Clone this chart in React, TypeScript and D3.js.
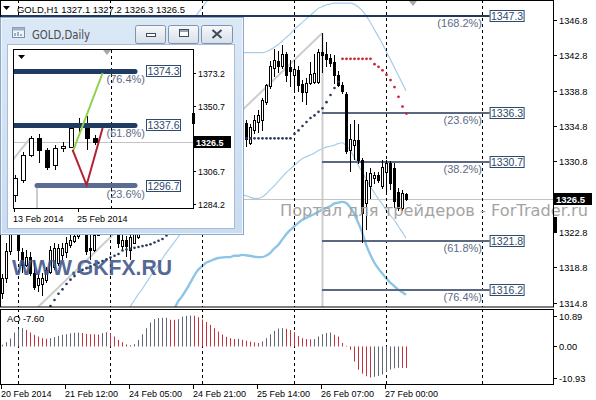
import React from "react";
import * as d3 from "d3";

// ---------- H1 candles (bar index 0..101) ----------
const OPEN = [1315.9,1317.6,1320.6,1322.8,1324.0,1320.5,1319.1,1320.0,1318.2,1316.8,
1316.9,1317.4,1318.3,1318.8,1319.3,1320.2,1320.5,1321.3,1321.8,1322.3,
1322.8,1323.8,1321.0,1320.8,1322.5,1323.8,1324.6,1324.0,1324.8,1324.0,
1321.2,1321.9,1320.8,1321.6,1322.2,1323.5,1325.0,1326.8,1328.0,1330.2,
1329.6,1332.4,1334.0,1333.2,1335.8,1337.2,1336.0,1334.8,1336.2,1335.8,
1334.2,1333.4,1334.4,1335.2,1334.6,1335.0,1336.4,1336.0,1336.8,1336.2,
1336.6,1335.1,1332.9,1334.4,1335.3,1335.5,1337.5,1339.3,1341.4,1342.2,
1341.6,1342.9,1341.5,1340.6,1341.1,1339.5,1338.6,1339.7,1339.8,1339.8,
1343.2,1342.9,1342.5,1342.0,1340.6,1339.4,1338.4,1332.1,1332.6,1333.2,
1331.0,1326.1,1328.0,1328.9,1329.2,1328.0,1329.6,1330.6,1330.0,1327.3,
1325.5,1327.1];
const HIGH = [1318.0,1321.5,1324.0,1325.0,1324.6,1321.0,1320.8,1320.5,1319.6,1318.0,
1318.2,1318.8,1321.2,1321.5,1321.4,1321.6,1322.2,1322.5,1322.8,1323.4,
1324.2,1324.2,1322.4,1323.0,1324.2,1325.0,1325.6,1325.2,1325.4,1324.8,
1322.4,1322.3,1322.8,1324.0,1324.5,1325.4,1327.2,1328.5,1330.6,1331.4,
1332.8,1334.6,1335.2,1336.4,1338.0,1338.4,1337.0,1336.6,1337.8,1336.4,
1335.0,1334.8,1335.6,1336.2,1335.4,1336.8,1337.4,1337.2,1337.6,1337.0,
1337.0,1335.5,1335.0,1336.0,1336.6,1338.0,1339.6,1342.2,1343.5,1343.3,
1344.0,1343.2,1342.3,1342.3,1341.6,1340.0,1340.2,1342.1,1343.0,1343.5,
1345.3,1344.3,1343.0,1342.8,1341.0,1339.8,1338.6,1335.0,1335.5,1335.0,
1331.2,1329.6,1330.0,1329.6,1329.6,1330.9,1330.9,1330.8,1330.6,1327.8,
1327.6,1327.2];
const LOW = [1315.2,1317.0,1320.2,1322.7,1319.6,1318.2,1318.8,1317.8,1316.2,1316.0,
1315.6,1317.0,1318.0,1318.5,1319.0,1319.6,1319.8,1321.0,1321.5,1322.0,
1322.6,1320.2,1319.6,1320.5,1322.4,1323.2,1323.6,1323.0,1323.5,1321.0,
1320.8,1320.0,1319.6,1321.4,1322.0,1323.0,1324.6,1326.2,1327.5,1329.0,
1329.2,1331.8,1332.6,1332.8,1335.0,1335.6,1334.4,1334.0,1335.4,1333.8,
1332.6,1332.8,1333.6,1334.2,1333.8,1334.6,1335.6,1335.2,1335.8,1335.4,
1334.5,1332.4,1332.6,1333.9,1334.0,1334.2,1337.2,1339.0,1340.4,1340.8,
1341.3,1339.8,1339.2,1338.8,1338.6,1337.5,1337.2,1339.4,1339.6,1339.5,
1340.8,1341.5,1341.5,1339.6,1339.2,1338.4,1331.6,1329.6,1331.0,1330.5,
1321.5,1323.0,1326.5,1328.2,1328.3,1327.7,1327.3,1327.6,1325.5,1325.2,
1325.2,1326.3];
const CLOSE = [1317.6,1320.6,1322.8,1324.0,1320.8,1319.1,1320.0,1318.2,1316.6,1317.6,
1317.6,1318.5,1320.8,1321.0,1321.0,1321.0,1321.6,1321.9,1322.3,1322.8,
1323.8,1320.6,1320.7,1322.5,1323.8,1324.6,1324.0,1324.8,1324.0,1321.5,
1321.9,1321.2,1322.2,1322.7,1323.5,1325.0,1326.8,1328.0,1330.2,1329.6,
1332.4,1334.0,1333.2,1335.8,1337.2,1336.0,1334.8,1336.2,1335.8,1334.2,
1333.4,1334.4,1335.2,1334.6,1335.0,1336.4,1336.0,1336.8,1336.2,1336.6,
1335.1,1333.3,1334.7,1335.5,1336.0,1337.7,1339.4,1341.6,1342.3,1341.6,
1342.9,1340.6,1341.0,1341.2,1339.4,1338.7,1339.7,1340.7,1340.8,1343.2,
1342.8,1342.4,1341.9,1340.6,1339.4,1338.8,1332.0,1333.3,1333.2,1331.0,
1325.0,1328.7,1329.5,1329.2,1328.7,1330.2,1330.6,1328.3,1326.3,1325.5,
1327.2,1326.5];

const N = null;
// Parabolic SAR (below price, dark) and (above price, red)
const SAR_UP = [N,N,N,N,N,N,N,N,N,N,N,N,
1314.4,1315.1,1315.8,1316.3,1316.9,1317.4,1317.8,1318.3,1318.5,1318.7,
1318.9,1319.1,1319.3,1319.5,1319.7,1319.9,1320.1,1320.3,1320.7,1320.8,
1320.9,1321.0,1321.1,1321.2,1321.3,1321.4,1321.6,1321.8,1322.0,1322.4,
N,N,N,N,N,N,N,N,N,N,N,N,N,N,N,N,N,N,
1333.4,1333.4,1333.4,1333.4,1333.4,1333.4,1333.4,1333.4,1333.4,1333.4,1333.4,1333.4,1333.4,
1333.9,1334.3,1334.8,1335.25,1335.7,1336.0,1336.4,1336.8,1337.5,1338.3,1339.1,1339.8,
N,N,N,N,N,N,N,N,N,N,N,N,N,N,N,N,N];
const SAR_DOWN = [...Array(85).fill(N),
1342.4,1342.4,1342.4,1342.4,1342.4,1342.4,1342.4,1342.4,
1341.8,1341.5,1341.1,1340.6,1340.0,1339.2,1338.1,1337.0,1336.2];

// Bands (light blue)
const BAND_UPPER = [...Array(47).fill(N),
1346.5,1347.0,1347.6,1348.2,1348.8,1349.4,
N,N,N,N,N,N,N,
1343.1,1343.1,1343.1,1343.1,1343.1,1343.1,1343.2,1343.4,1343.7,1344.0,
1344.4,1344.8,1345.2,1345.7,1346.1,1346.5,1346.9,1347.3,1347.7,1348.1,
1348.3,1348.5,1348.6,1348.7,1348.7,
1348.7,1348.7,1348.7,1348.6,1348.3,1347.9,1347.3,1346.6,1345.8,1345.0,
1344.2,1343.3,1342.4,1341.5,1340.6,1339.7,1338.8];
const BAND_MIDDLE = [...Array(31).fill(N),
1313.6,1314.3,1315.0,1315.7,1316.3,1317.0,1317.7,1318.4,1319.0,1319.7,1320.4,1321.0,1321.6,1322.2,1322.8,1323.4,
N,N,N,N,N,N,N,N,N,N,N,N,
1327.1,1327.0,1326.9,1326.75,1326.6,1326.6,1326.75,1327.1,1327.55,1328.0,
1328.5,1329.0,1329.5,1329.9,1330.3,1330.7,1331.1,1331.3,1331.5,1331.7,
1332.0,1332.2,1332.4,1332.5,1332.6,1332.8,1332.9,1332.6,1332.1,1331.3,
1330.4,1329.6,1328.8,1328.0,1327.3,1326.6,1326.0,1325.3,1324.7,1324.2,
1323.5,1322.8,1322.1];
const BAND_LOWER = [...Array(43).fill(N),
1314.0,1314.9,1315.5,1316.2,1317.0,1317.8,1318.5,1318.9,1319.3,1319.5,
1319.7,1319.85,1319.9,1319.95,1319.95,1320.1,1320.1,1320.2,1320.15,1320.1,
1320.0,1319.95,1319.95,1320.1,1320.4,1320.9,1321.3,1321.9,1322.5,1323.0,
1323.4,1323.8,1324.15,1324.4,1324.6,1324.8,1325.05,1325.3,1325.5,1325.7,
1326.0,1326.1,1326.2,1326.1,1325.6,1324.9,1323.9,1322.8,1321.4,1320.3,
1319.4,1318.7,1318.15,1317.6,1317.1,1316.7,1316.3,1316.0,1315.7];

// Awesome Oscillator
const AO = [0.6,1.5,2.8,4.9,6.2,6.45,
5.8,4.9,4.1,3.5,2.9,2.7,
2.9,3.3,3.7,4.1,4.3,4.6,4.8,4.9,
4.7,4.4,4.3,4.25,4.2,
4.7,5.0,
4.7,3.5,2.3,1.5,0.7,0.4,
0.8,2.3,4.3,6.4,8.4,9.6,10.0,10.05,10.1,
9.4,9.35,
9.6,10.5,10.75,
10.89,
10.8,10.3,9.5,8.6,7.6,6.4,5.2,4.2,3.4,2.9,2.6,
2.7,
2.3,2.0,1.7,1.45,1.2,
1.75,2.9,4.3,5.5,6.3,6.45,
6.2,5.8,5.0,3.7,2.9,2.6,2.5,
2.6,3.5,4.3,4.7,4.9,
4.1,3.5,1.2,0.2,-1.2,-5.3,-8.2,-9.6,-10.5,-10.93,
-10.7,-10.4,-9.9,-9.0,-8.1,-7.7,-7.5,
-7.55,-7.6];

// Fibonacci (H1)
const FIB_PRICES = [1347.3, 1336.3, 1330.7, 1321.8, 1316.2];
const FIB_PCTS = ["(168.2%)", "(23.6%)", "(38.2%)", "(61.8%)", "(76.4%)"];
const FIB_TEXT = ["1347.3", "1336.3", "1330.7", "1321.8", "1316.2"];
const FIB_DIAG = [[-7, 1307.3], [80, 1345.3]];
const FIB_START_BAR = 80;
const FIB_END_BAR = 121.9;

const SEPARATOR_BARS = [4, 27, 50, 73, 96, 120];
const X_TICK_BARS = [0, 16, 32, 48, 64, 80, 96];
const X_TICK_LABELS = ["20 Feb 2014", "21 Feb 12:00", "24 Feb 05:00", "24 Feb 21:00", "25 Feb 14:00", "26 Feb 07:00", "27 Feb 00:00"];
const Y_TICKS = [1346.8, 1342.8, 1338.8, 1334.8, 1330.8, 1322.8, 1318.8, 1314.8];
const AO_TICKS = [10.89, 0, -10.93];
const AO_TICK_LABELS = ["10.89", "0.00", "-10.93"];
const LAST_PRICE = 1326.5;

// ---------- Daily inset ----------
const D_OPEN = [1290.3,1300.5,1317.5,1329.0,1320.9,1310.7,1322.2,1322.9,1336.5,1339.2,1329.0];
const D_HIGH = [1303.9,1319.5,1330.4,1331.8,1322.2,1324.3,1326.3,1335.8,1342.6,1344.0,1331.1];
const D_LOW = [1285.6,1298.5,1316.0,1312.1,1307.3,1307.3,1319.5,1322.2,1332.4,1320.9,1324.3];
const D_CLOSE = [1301.9,1317.5,1329.0,1320.9,1309.3,1322.2,1323.6,1335.8,1339.2,1329.0,1326.5];
const D_FIB_PRICES = [1374.3, 1337.6, 1296.7];
const D_FIB_TEXT = ["1374.3", "1337.6", "1296.7"];
const D_FIB_PCTS = ["(76.4%)", "(61.8%)", "(23.6%)"];
const D_FIB_START = [-1, -1, 2.75];
const D_FIB_END = 15;
const D_GREEN = [[7.2, 1319.5], [10.95, 1373.2]];
const D_RED = [[7.2, 1320.9], [8.95, 1297.1], [10.95, 1335.8]];
const D_DIAG = [[-0.6, 1312.0], [1.9, 1329.0]];
const D_Y_TICKS = [1373.2, 1350.7, 1306.7, 1284.2];
const D_X_TICKS = [0, 8];
const D_X_LABELS = ["13 Feb 2014", "25 Feb 2014"];
const D_SEPARATOR = 12;

const FONT = "'Liberation Sans', Arial, sans-serif";

export default function App() {
  const x = d3.scaleLinear().domain([0, 101]).range([2, 406]);
  const y = d3.scaleLinear().domain([1314.8, 1346.8]).range([302.6, 20]);
  const yAO = d3.scaleLinear().domain([-10.93, 10.89]).range([377.5, 315.5]);
  const X = (i: number) => Math.round(x(i));

  const xi = d3.scaleLinear().domain([0, 10]).range([15, 95]);
  const yi = d3.scaleLinear().domain([1284.2, 1373.2]).range([204, 73]);

  const lineGen = (arr: (number | null)[]) =>
    d3.line<number | null>()
      .defined((d) => d != null)
      .x((_, i) => x(i))
      .y((d) => y(d as number))
      .curve(d3.curveMonotoneX)(arr) || "";

  const ptLine = (pts: number[][], sx: any, sy: any) =>
    d3.line<number[]>().x((p) => sx(p[0])).y((p) => sy(p[1]))(pts) || "";

  const lastY = Math.round(y(LAST_PRICE)) + 0.5;

  return (
    <svg width={596} height={400} style={{ position: "absolute", left: 0, top: 0, background: "#fff" }} fontFamily={FONT}>
      <defs>
        <clipPath id="mainClip"><rect x={1} y={1} width={552} height={306} /></clipPath>
        <clipPath id="aoClip"><rect x={1} y={310} width={552} height={74} /></clipPath>
        <clipPath id="inClip"><rect x={14} y={50} width={179} height={158} /></clipPath>
        <linearGradient id="btn" x1="0" y1="0" x2="0" y2="1">
          <stop offset="0" stopColor="#f6f8fb" />
          <stop offset="1" stopColor="#d6dfe9" />
        </linearGradient>
        <linearGradient id="frame" x1="0" y1="0" x2="0" y2="1">
          <stop offset="0" stopColor="#dbe8f6" />
          <stop offset="1" stopColor="#c9dcf1" />
        </linearGradient>
      </defs>
      <rect x={0} y={0} width={596} height={400} fill="#fff" />

      {/* ---------- main chart ---------- */}
      <g clipPath="url(#mainClip)">
        <path d={lineGen(BAND_UPPER)} fill="none" stroke="#a7cde6" strokeWidth={1.2} />
        <path d={lineGen(BAND_MIDDLE)} fill="none" stroke="#a7cde6" strokeWidth={1.2} />
        <path d={lineGen(BAND_LOWER)} fill="none" stroke="#8cc5e5" strokeWidth={2.4} />
        <path d={ptLine(FIB_DIAG, x, y)} stroke="#cdcdcd" strokeWidth={2} fill="none" />
        <line x1={X(FIB_START_BAR) + 0.5} x2={X(FIB_START_BAR) + 0.5} y1={y(1345.3)} y2={307} stroke="#cdcdcd" strokeWidth={2} />
        <line x1={0} x2={553} y1={lastY} y2={lastY} stroke="#c4c4c4" />
        {SEPARATOR_BARS.map((b) => (
          <line key={b} x1={X(b) + 0.5} x2={X(b) + 0.5} y1={0} y2={307} stroke="#000" strokeDasharray="3,3" />
        ))}
        {FIB_PRICES.map((p, k) => {
          const yy = Math.round(y(p));
          return (
            <line key={k} x1={k === 0 ? 0 : X(FIB_START_BAR)} x2={x(FIB_END_BAR)} y1={yy} y2={yy}
              stroke={k === 0 ? "#22385a" : "#5a6882"} strokeWidth={2} />
          );
        })}
        {OPEN.map((o, i) => {
          const c = CLOSE[i];
          const xx = X(i);
          const t = Math.round(y(Math.max(o, c)));
          const b = Math.round(y(Math.min(o, c)));
          const bull = c >= o;
          return (
            <g key={i}>
              <line x1={xx + 0.5} x2={xx + 0.5} y1={Math.round(y(HIGH[i]))} y2={Math.round(y(LOW[i]))} stroke="#000" />
              <rect x={xx - 0.5} y={t + 0.5} width={2} height={Math.max(b - t, 1)} fill={bull ? "#fff" : "#000"} stroke="#000" />
            </g>
          );
        })}
        {SAR_UP.map((v, i) => v == null ? null : (
          <circle key={"u" + i} cx={X(i) + 0.5} cy={y(v)} r={1.3} fill="#26395a" />
        ))}
        {SAR_DOWN.map((v, i) => v == null ? null : (
          <circle key={"d" + i} cx={X(i) + 0.5} cy={y(v)} r={1.4} fill="#c8283a" />
        ))}
        <text x={12} y={275} fontSize={22} fontWeight="bold" fill="#3e5488" opacity={0.88} textLength={160} lengthAdjust="spacingAndGlyphs">WWW.GKFX.RU</text>
        {FIB_PRICES.map((p, k) => {
          const yy = Math.round(y(p));
          const bx = x(FIB_END_BAR);
          return (
            <g key={k}>
              <rect x={bx + 0.5} y={yy - 5.5} width={34} height={11} fill="#fff" stroke="#2f4a6c" />
              <text x={bx + 17.5} y={yy + 4} fontSize={10.5} fill="#2f4a6c" textAnchor="middle">{FIB_TEXT[k]}</text>
              <text x={482} y={yy + 10.5} fontSize={11} fill="#5c6b85" textAnchor="end">{FIB_PCTS[k]}</text>
            </g>
          );
        })}
        <polygon points="409,1 417,1 413,6" fill="#a8a8a8" />
      </g>
      <text x={280} y={216} fontSize={15} fill="#a4a4a4" fontFamily="'DejaVu Sans', sans-serif" textLength={308} lengthAdjust="spacingAndGlyphs">Портал для трейдеров - ForTrader.ru</text>

      <rect x={0.5} y={0.5} width={553} height={306.5} fill="none" stroke="#000" />
      <polygon points="3,6 10,6 6.5,10" fill="#000" />
      <text x={17} y={12.5} fontSize={9.5} fill="#000" textLength={168} lengthAdjust="spacingAndGlyphs">GOLD,H1 1327.1 1327.2 1326.3 1326.5</text>

      {Y_TICKS.map((t) => {
        const yy = Math.round(y(t)) + 0.5;
        return (
          <g key={t}>
            <line x1={553} x2={557} y1={yy} y2={yy} stroke="#000" />
            <text x={559} y={yy + 3.5} fontSize={9.3} fill="#000">{t.toFixed(1)}</text>
          </g>
        );
      })}
      <rect x={553} y={lastY - 6.5} width={39} height={12} fill="#000" />
      <text x={556} y={lastY + 3.5} fontSize={9.5} fill="#fff" fontWeight="bold">{LAST_PRICE.toFixed(1)}</text>
      <rect x={554} y={217} width={3} height={15} fill="#000" />

      {/* ---------- AO panel ---------- */}
      <g clipPath="url(#aoClip)">
        {SEPARATOR_BARS.map((b) => (
          <line key={b} x1={X(b) + 0.5} x2={X(b) + 0.5} y1={309} y2={384} stroke="#000" strokeDasharray="3,3" />
        ))}
        {AO.map((v, i) => {
          const up = i === 0 || v > AO[i - 1];
          return (
            <line key={i} x1={X(i) + 0.5} x2={X(i) + 0.5} y1={yAO(0)} y2={yAO(v)} stroke={up ? "#5f6676" : "#c4333d"} />
          );
        })}
      </g>
      <rect x={0.5} y={309.5} width={553} height={75} fill="none" stroke="#000" />
      <text x={7} y={321.5} fontSize={9.3} fill="#000">AO -7.60</text>
      {AO_TICKS.map((t, k) => {
        const yy = Math.round(yAO(t)) + 0.5;
        return (
          <g key={k}>
            <line x1={553} x2={557} y1={yy} y2={yy} stroke="#000" />
            <text x={559} y={yy + 3.5} fontSize={9.3} fill="#000">{AO_TICK_LABELS[k]}</text>
          </g>
        );
      })}
      {X_TICK_BARS.map((b, k) => (
        <g key={b}>
          <line x1={X(b) - 0.5} x2={X(b) - 0.5} y1={385} y2={389} stroke="#000" />
          <text x={X(b) - 1} y={396.5} fontSize={9} fill="#000">{X_TICK_LABELS[k]}</text>
        </g>
      ))}

      {/* ---------- Daily inset window ---------- */}
      <g>
        <rect x={0.5} y={17.5} width={243} height={217} fill="url(#frame)" stroke="#8ea8c6" />
        <rect x={1.5} y={18.5} width={241} height={215} fill="none" stroke="#eef5fc" />
        <rect x={12.5} y={27.5} width={12} height={10} fill="#eef3f8" stroke="#7d8fa6" />
        <rect x={12.5} y={27.5} width={12} height={3} fill="#9fb2c8" />
        <path d="M15,36 L15,33 M18,36 L18,32 M21,36 L21,34" stroke="#4f6f97" />
        <text x={32} y={38.5} fontSize={11.5} fill="#4a4a4a" fontFamily="'DejaVu Sans', sans-serif" textLength={58} lengthAdjust="spacingAndGlyphs">GOLD,Daily</text>
        <rect x={135.5} y={25.5} width={30} height={18} rx={2} fill="url(#btn)" stroke="#7f93ad" />
        <rect x={168.5} y={25.5} width={30} height={18} rx={2} fill="url(#btn)" stroke="#7f93ad" />
        <rect x={201.5} y={25.5} width={31} height={18} rx={2} fill="url(#btn)" stroke="#7f93ad" />
        <rect x={146.5} y={33.5} width={9} height={3} fill="#fff" stroke="#3d4a5c" />
        <rect x={179.5} y={29.5} width={9} height={7} fill="#fff" stroke="#3d4a5c" />
        <line x1={180} x2={188} y1={31} y2={31} stroke="#3d4a5c" />
        <path d="M212.5,30 L221.5,38 M221.5,30 L212.5,38" stroke="#3d4a5c" strokeWidth={2} />
        <rect x={7.5} y={44.5} width={227} height={184} fill="#fff" stroke="#a9bed6" />
        <rect x={13.5} y={49.5} width={180} height={159} fill="#fff" stroke="#000" />
        <g clipPath="url(#inClip)">
          <line x1={14} x2={193} y1={Math.round(yi(LAST_PRICE)) + 0.5} y2={Math.round(yi(LAST_PRICE)) + 0.5} stroke="#c4c4c4" />
          <line x1={xi(D_SEPARATOR) + 0.5} x2={xi(D_SEPARATOR) + 0.5} y1={50} y2={208} stroke="#000" strokeDasharray="3,3" />
          <line x1={xi(D_FIB_START[2])} x2={xi(D_FIB_START[2])} y1={yi(D_FIB_PRICES[2])} y2={208} stroke="#cdcdcd" strokeWidth={2} />
          <path d={ptLine(D_DIAG, xi, yi)} stroke="#cdcdcd" strokeWidth={2} fill="none" />
          {D_OPEN.map((o, k) => {
            const c = D_CLOSE[k];
            const xx = Math.round(xi(k));
            const t = Math.round(yi(Math.max(o, c)));
            const b = Math.round(yi(Math.min(o, c)));
            const bull = c >= o;
            return (
              <g key={k}>
                <line x1={xx + 0.5} x2={xx + 0.5} y1={Math.round(yi(D_HIGH[k]))} y2={Math.round(yi(D_LOW[k]))} stroke="#000" />
                <rect x={xx - 1.5} y={t + 0.5} width={4} height={Math.max(b - t, 1)} fill={bull ? "#fff" : "#000"} stroke="#000" />
              </g>
            );
          })}
          {D_FIB_PRICES.map((p, k) => (
            <line key={k} x1={xi(D_FIB_START[k])} x2={xi(D_FIB_END)} y1={yi(p)} y2={yi(p)}
              stroke={k === 2 ? "#5b6c93" : "#1f3b62"} strokeWidth={5} strokeLinecap="round" />
          ))}
          <path d={ptLine(D_GREEN, xi, yi)} stroke="#8fd14d" strokeWidth={2} fill="none" />
          <path d={ptLine(D_RED, xi, yi)} stroke="#b3202f" strokeWidth={2} fill="none" />
          <polygon points="103,50 111,50 107,55" fill="#a8a8a8" />
          <polygon points="18,55 25,55 21.5,59" fill="#000" />
        </g>
        {D_FIB_PRICES.map((p, k) => {
          const yy = Math.round(yi(p));
          return (
            <g key={k}>
              <rect x={146.5} y={yy - 5.5} width={34} height={11} fill="#fff" stroke="#2f4a6c" />
              <text x={163.5} y={yy + 4} fontSize={10.5} fill="#2f4a6c" textAnchor="middle">{D_FIB_TEXT[k]}</text>
              <text x={145} y={yy + 11.5} fontSize={11} fill="#5c6b85" textAnchor="end">{D_FIB_PCTS[k]}</text>
            </g>
          );
        })}
        {D_Y_TICKS.map((t) => {
          const yy = Math.round(yi(t)) + 0.5;
          return (
            <g key={t}>
              <line x1={193} x2={196} y1={yy} y2={yy} stroke="#000" />
              <text x={198} y={yy + 3.3} fontSize={8.8} fill="#000">{t.toFixed(1)}</text>
            </g>
          );
        })}
        <rect x={193} y={Math.round(yi(LAST_PRICE)) - 6} width={38} height={12} fill="#000" />
        <text x={196} y={Math.round(yi(LAST_PRICE)) + 3.5} fontSize={9} fill="#fff" fontWeight="bold">{LAST_PRICE.toFixed(1)}</text>
        <rect x={192} y={113} width={3} height={11} fill="#000" />
        {D_X_TICKS.map((k, j) => (
          <g key={k}>
            <line x1={xi(k) - 0.5} x2={xi(k) - 0.5} y1={209} y2={212} stroke="#000" />
            <text x={xi(k) - 2} y={221.5} fontSize={9} fill="#000">{D_X_LABELS[j]}</text>
          </g>
        ))}
      </g>
    </svg>
  );
}
